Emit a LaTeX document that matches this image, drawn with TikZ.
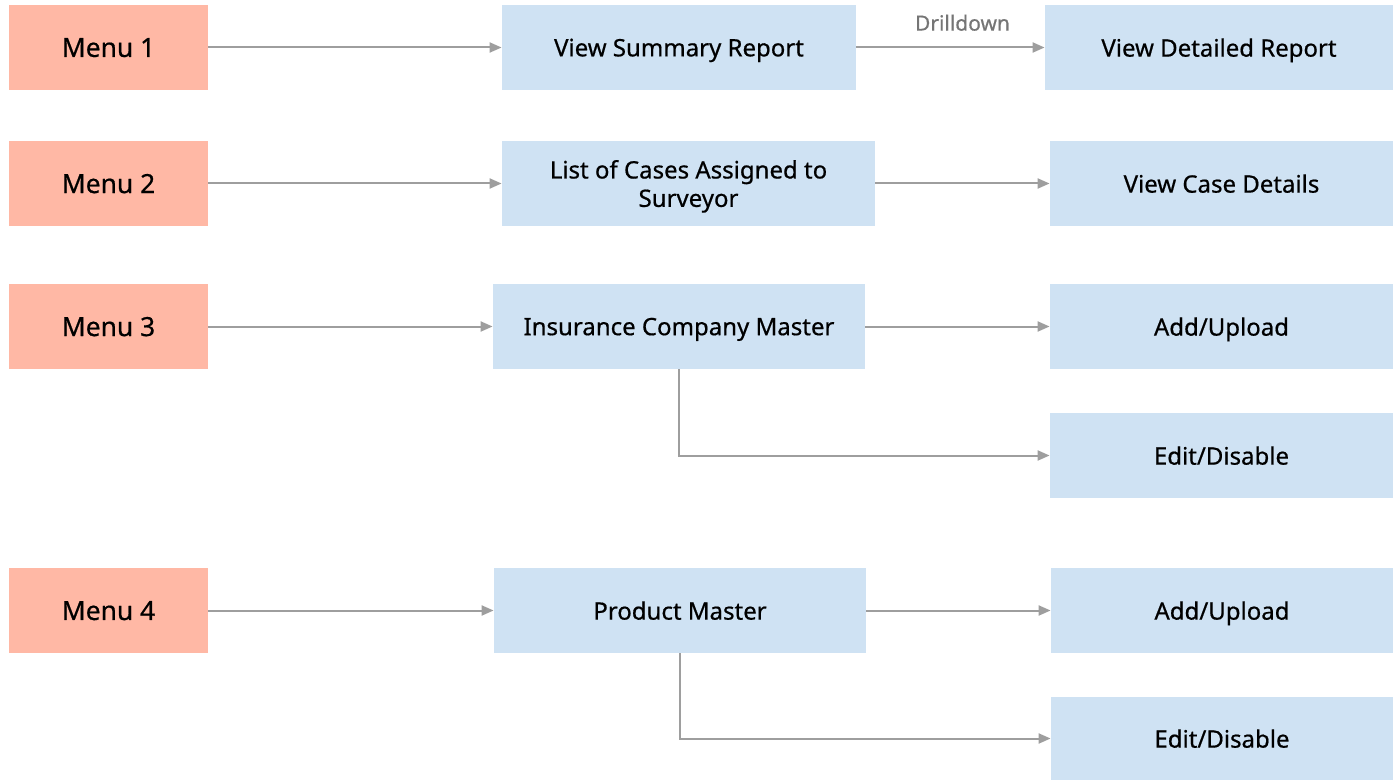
\documentclass[tikz,border=0pt]{standalone}
\usepackage{fontspec}
\setmainfont{Noto Sans}
\newfontfamily\boldish{Noto Sans}[FakeBold=0.6]
\usetikzlibrary{arrows.meta}
\definecolor{menuc}{HTML}{FFB8A5}
\definecolor{boxc}{HTML}{CFE2F3}
\definecolor{linec}{HTML}{9E9E9E}
\definecolor{labc}{HTML}{757575}
\tikzset{
  menubox/.style={fill=menuc, draw=none, inner sep=0pt, text depth=0pt, font=\boldish\fontsize{13.2}{15}\selectfont, text=black},
  bluebox/.style={fill=boxc, draw=none, inner sep=0pt, text depth=0pt, align=center, font=\boldish\fontsize{12}{14.2}\selectfont, text=black},
  conn/.style={draw=linec, line width=1pt, -{Triangle[length=6pt,width=5pt]}},
  lab/.style={text=labc, font=\boldish\fontsize{10.5}{12}\selectfont}
}
\begin{document}
\begin{tikzpicture}[x=0.5pt,y=-0.5pt]
\useasboundingbox (0,0) rectangle (1393,781);
% row 1
\node[menubox, minimum width=99.5pt, minimum height=42.5pt] (m1) at (108.5,47.5) {Menu 1};
\node[bluebox, minimum width=177pt, minimum height=42.5pt] (vsr) at (679,47.5) {View Summary Report};
\node[bluebox, minimum width=174pt, minimum height=42.5pt] (vdr) at (1219,47.5) {View Detailed Report};
% row 2
\node[menubox, minimum width=99.5pt, minimum height=42.5pt] (m2) at (108.5,183.5) {Menu 2};
\node[bluebox, minimum width=186.5pt, minimum height=42.5pt] (loc) at (688.5,183.5) {List of Cases Assigned to\\Surveyor};
\node[bluebox, minimum width=171.5pt, minimum height=42.5pt] (vcd) at (1221.5,183.5) {View Case Details};
% row 3
\node[menubox, minimum width=99.5pt, minimum height=42.5pt] (m3) at (108.5,326.5) {Menu 3};
\node[bluebox, minimum width=186pt, minimum height=42.5pt] (icm) at (679,326.5) {Insurance Company Master};
\node[bluebox, minimum width=171.5pt, minimum height=42.5pt] (au3) at (1221.5,326.5) {Add/Upload};
\node[bluebox, minimum width=171.5pt, minimum height=42.5pt] (ed3) at (1221.5,455.5) {Edit/Disable};
% row 4
\node[menubox, minimum width=99.5pt, minimum height=42.5pt] (m4) at (108.5,610.5) {Menu 4};
\node[bluebox, minimum width=186pt, minimum height=42.5pt] (pm) at (680,610.5) {Product Master};
\node[bluebox, minimum width=171pt, minimum height=42.5pt] (au4) at (1222,610.5) {Add/Upload};
\node[bluebox, minimum width=171pt, minimum height=41.5pt] (ed4) at (1222,738.5) {Edit/Disable};
% connectors
\draw[conn] (m1) -- (vsr);
\draw[conn] (vsr) -- node[lab, above=4.5pt, xshift=6pt] (dd) {Drilldown} (vdr);
\draw[conn] (m2) -- (loc);
\draw[conn] (loc) -- (vcd);
\draw[conn] (m3) -- (icm);
\draw[conn] (icm) -- (au3);
\draw[conn] (icm.south) |- (ed3.west);
\draw[conn] (m4) -- (pm);
\draw[conn] (pm) -- (au4);
\draw[conn] (pm.south) |- (ed4.west);
\end{tikzpicture}
\end{document}
